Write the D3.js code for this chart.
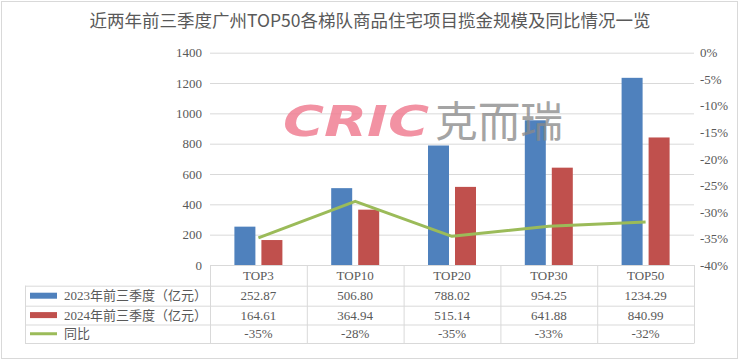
<!DOCTYPE html>
<html><head><meta charset="utf-8">
<script src="https://cdn.jsdelivr.net/npm/d3@7/dist/d3.min.js"></script>
<style>
html,body{margin:0;padding:0;background:#fff;}
svg{display:block;}
</style></head>
<body><svg id="c" width="740" height="362"></svg>
<script>
const title = "近两年前三季度广州TOP50各梯队商品住宅项目揽金规模及同比情况一览";
const categories = ["TOP3","TOP10","TOP20","TOP30","TOP50"];
const series2023 = [252.87,506.80,788.02,954.25,1234.29];
const series2024 = [164.61,364.94,515.14,641.88,840.99];
const yoy = [-34.9,-28.0,-34.6,-32.7,-31.9];
const yoyLabels = ["-35%","-28%","-35%","-33%","-32%"];
const seriesNames = ["2023年前三季度（亿元）","2024年前三季度（亿元）","同比"];
const leftTicks = [0,200,400,600,800,1000,1200,1400];
const rightTicks = [0,-5,-10,-15,-20,-25,-30,-35,-40];
const colors = ["#4f81bd","#c0504d","#9bbb59"];

(function(){
const svg = d3.select("#c");
const serif = "'Liberation Serif','DejaVu Serif','Noto Sans CJK SC',serif";
const cjk = "'Liberation Serif','Noto Sans CJK SC',sans-serif";
const txt = "#595959", grid = "#d9d9d9";

svg.append("rect").attr("x",1.5).attr("y",1.5).attr("width",736).attr("height",357)
  .attr("fill","#fff").attr("stroke","#d9d9d9");

svg.append("text").attr("x",370).attr("y",27).attr("text-anchor","middle")
  .attr("font-family","'Noto Sans CJK SC',sans-serif").attr("font-size",17.5)
  .attr("fill",txt).text(title);

const pL=210, pR=694, pT=52.7, pB=265;
const x = d3.scaleBand().domain(categories).range([pL,pR]);
const y = d3.scaleLinear().domain([0,1400]).range([pB,pT]);
const y2 = d3.scaleLinear().domain([-40,0]).range([pB,pT]);

svg.append("g").selectAll("line").data(leftTicks).join("line")
  .attr("x1",pL).attr("x2",pR).attr("y1",d=>y(d)+0.5).attr("y2",d=>y(d)+0.5)
  .attr("stroke",grid);

const ga = svg.append("g").attr("transform",`translate(${pL-8},0)`)
  .call(d3.axisLeft(y).tickValues(leftTicks).tickSize(0).tickPadding(0).tickFormat(d3.format("d")));
ga.select(".domain").remove();
ga.selectAll("text").attr("font-family",serif).attr("font-size",13).attr("fill",txt);

const gr = svg.append("g").attr("transform",`translate(${pR+6},0)`)
  .call(d3.axisRight(y2).tickValues(rightTicks).tickSize(0).tickPadding(0).tickFormat(d=>d+"%"));
gr.select(".domain").remove();
gr.selectAll("text").attr("font-family",serif).attr("font-size",13).attr("fill",txt);

const bw = 21, gap = 6;
const bars = svg.append("g");
bars.selectAll(".b1").data(series2023).join("rect").attr("class","b1")
  .attr("x",(d,i)=>x(categories[i])+x.bandwidth()/2-gap/2-bw).attr("width",bw)
  .attr("y",d=>y(d)).attr("height",d=>y(0)-y(d)).attr("fill",colors[0]);
bars.selectAll(".b2").data(series2024).join("rect").attr("class","b2")
  .attr("x",(d,i)=>x(categories[i])+x.bandwidth()/2+gap/2).attr("width",bw)
  .attr("y",d=>y(d)).attr("height",d=>y(0)-y(d)).attr("fill",colors[1]);

const wm = svg.append("g").attr("opacity",0.85);
wm.append("text").attr("x",283).attr("y",136).attr("font-family","'DejaVu Sans','Liberation Sans',sans-serif")
  .attr("font-weight","bold").attr("font-style","italic").attr("font-size",42)
  .attr("textLength",146).attr("lengthAdjust","spacingAndGlyphs")
  .attr("fill","#f07f93").text("CRIC");
wm.append("text").attr("x",435).attr("y",137).attr("font-family","'Noto Sans CJK SC',sans-serif")
  .attr("font-size",42).attr("textLength",128).attr("lengthAdjust","spacingAndGlyphs")
  .attr("fill","#8a8a8a").attr("opacity",0.9).text("克而瑞");

const line = d3.line().x((d,i)=>x(categories[i])+x.bandwidth()/2).y(d=>y2(d));
svg.append("path").datum(yoy).attr("d",line).attr("fill","none")
  .attr("stroke",colors[2]).attr("stroke-width",3).attr("stroke-linejoin","round");

const rowY = [265, 285.7, 305.7, 324.5, 343];
const tleft = 25;
const tg = svg.append("g").attr("stroke",grid).attr("stroke-width",1);
tg.append("line").attr("x1",pL).attr("x2",pR).attr("y1",rowY[0]+0.5).attr("y2",rowY[0]+0.5);
for(let r=1;r<rowY.length;r++){
  tg.append("line").attr("x1",tleft).attr("x2",pR).attr("y1",rowY[r]+0.5).attr("y2",rowY[r]+0.5);
}
const cols = categories.map(c=>x(c)).concat([pR]);
cols.forEach(cx=>tg.append("line").attr("x1",cx+0.5).attr("x2",cx+0.5).attr("y1",rowY[0]).attr("y2",rowY[4]+0.5));
tg.append("line").attr("x1",tleft+0.5).attr("x2",tleft+0.5).attr("y1",rowY[1]).attr("y2",rowY[4]+0.5);

const rows = [categories, series2023.map(d=>d.toFixed(2)), series2024.map(d=>d.toFixed(2)), yoyLabels];
rows.forEach((row,r)=>{
  const cy = (rowY[r]+rowY[r+1])/2 + 4.5;
  row.forEach((v,i)=>{
    svg.append("text").attr("font-family",cjk).attr("font-size",13).attr("fill",txt)
      .attr("text-anchor","middle").attr("x",x(categories[i])+x.bandwidth()/2).attr("y",cy).text(v);
  });
});
seriesNames.forEach((n,i)=>{
  const cy = (rowY[i+1]+rowY[i+2])/2;
  if(i<2){
    svg.append("rect").attr("x",30).attr("y",cy-3).attr("width",27).attr("height",6).attr("fill",colors[i]);
  } else {
    svg.append("line").attr("x1",30).attr("x2",57).attr("y1",cy).attr("y2",cy)
      .attr("stroke",colors[2]).attr("stroke-width",3);
  }
  svg.append("text").attr("x",64).attr("y",cy+4.5).attr("font-family",cjk)
    .attr("font-size",13).attr("fill",txt).text(n);
});
})();
</script></body></html>
